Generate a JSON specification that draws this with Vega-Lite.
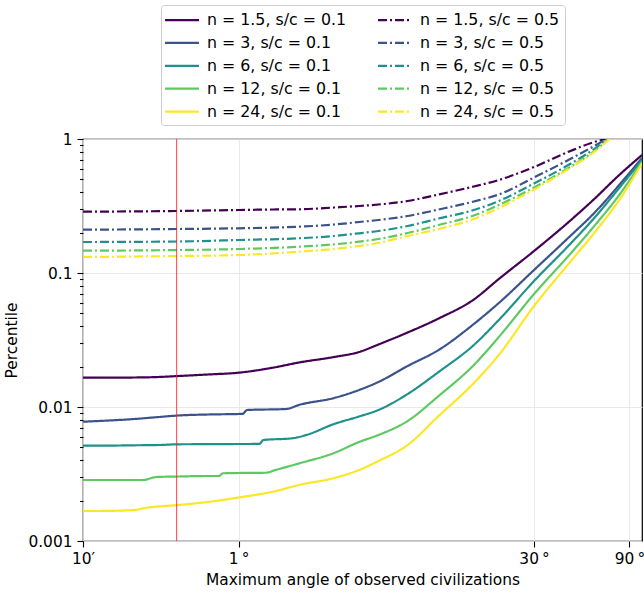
{
  "$schema": "https://vega.github.io/schema/vega-lite/v6.json",
  "width": 559,
  "height": 402,
  "autosize": {"type": "none"},
  "padding": {"left": 83, "top": 139, "right": 2, "bottom": 56},
  "background": "white",
  "config": {
    "font": "DejaVu Sans",
    "view": {"stroke": "black", "strokeWidth": 1.2},
    "axis": {
      "labelFont": "DejaVu Sans", "titleFont": "DejaVu Sans",
      "labelFontSize": 15.4, "titleFontSize": 15.4, "titleFontWeight": "normal",
      "labelColor": "black", "titleColor": "black",
      "tickColor": "black", "tickWidth": 1.1, "domain": false,
      "gridColor": "#e6e6e6", "gridWidth": 0.9
    }
  },
  "datasets": {
    "red": [{"x": 0.49}],
    "curves": [
      {"s": "n = 1.5, s/c = 0.1", "x": 0.1667, "y": 0.01655},
      {"s": "n = 1.5, s/c = 0.1", "x": 0.2, "y": 0.01655},
      {"s": "n = 1.5, s/c = 0.1", "x": 0.3, "y": 0.0166},
      {"s": "n = 1.5, s/c = 0.1", "x": 0.4, "y": 0.01675},
      {"s": "n = 1.5, s/c = 0.1", "x": 0.5, "y": 0.01703},
      {"s": "n = 1.5, s/c = 0.1", "x": 0.7, "y": 0.01748},
      {"s": "n = 1.5, s/c = 0.1", "x": 1, "y": 0.01803},
      {"s": "n = 1.5, s/c = 0.1", "x": 1.5, "y": 0.01971},
      {"s": "n = 1.5, s/c = 0.1", "x": 2, "y": 0.02148},
      {"s": "n = 1.5, s/c = 0.1", "x": 3, "y": 0.0236},
      {"s": "n = 1.5, s/c = 0.1", "x": 4, "y": 0.02572},
      {"s": "n = 1.5, s/c = 0.1", "x": 5, "y": 0.02926},
      {"s": "n = 1.5, s/c = 0.1", "x": 7, "y": 0.03597},
      {"s": "n = 1.5, s/c = 0.1", "x": 10, "y": 0.04575},
      {"s": "n = 1.5, s/c = 0.1", "x": 15, "y": 0.06342},
      {"s": "n = 1.5, s/c = 0.1", "x": 20, "y": 0.0902},
      {"s": "n = 1.5, s/c = 0.1", "x": 30, "y": 0.1459},
      {"s": "n = 1.5, s/c = 0.1", "x": 45, "y": 0.2423},
      {"s": "n = 1.5, s/c = 0.1", "x": 60, "y": 0.3566},
      {"s": "n = 1.5, s/c = 0.1", "x": 80, "y": 0.5387},
      {"s": "n = 1.5, s/c = 0.1", "x": 104, "y": 0.7597},

      {"s": "n = 3, s/c = 0.1", "x": 0.1667, "y": 0.007768},
      {"s": "n = 3, s/c = 0.1", "x": 0.2, "y": 0.007862},
      {"s": "n = 3, s/c = 0.1", "x": 0.3, "y": 0.008135},
      {"s": "n = 3, s/c = 0.1", "x": 0.4, "y": 0.008421},
      {"s": "n = 3, s/c = 0.1", "x": 0.5, "y": 0.008643},
      {"s": "n = 3, s/c = 0.1", "x": 0.7, "y": 0.00879},
      {"s": "n = 3, s/c = 0.1", "x": 1, "y": 0.00887},
      {"s": "n = 3, s/c = 0.1", "x": 1.05, "y": 0.00889},
      {"s": "n = 3, s/c = 0.1", "x": 1.1, "y": 0.009497},
      {"s": "n = 3, s/c = 0.1", "x": 1.73, "y": 0.009663},
      {"s": "n = 3, s/c = 0.1", "x": 2, "y": 0.01035},
      {"s": "n = 3, s/c = 0.1", "x": 3, "y": 0.01167},
      {"s": "n = 3, s/c = 0.1", "x": 4, "y": 0.01339},
      {"s": "n = 3, s/c = 0.1", "x": 5, "y": 0.01537},
      {"s": "n = 3, s/c = 0.1", "x": 7, "y": 0.02023},
      {"s": "n = 3, s/c = 0.1", "x": 10, "y": 0.02663},
      {"s": "n = 3, s/c = 0.1", "x": 15, "y": 0.04163},
      {"s": "n = 3, s/c = 0.1", "x": 20, "y": 0.05972},
      {"s": "n = 3, s/c = 0.1", "x": 30, "y": 0.1053},
      {"s": "n = 3, s/c = 0.1", "x": 45, "y": 0.1857},
      {"s": "n = 3, s/c = 0.1", "x": 60, "y": 0.2804},
      {"s": "n = 3, s/c = 0.1", "x": 80, "y": 0.4536},
      {"s": "n = 3, s/c = 0.1", "x": 104, "y": 0.7215},

      {"s": "n = 6, s/c = 0.1", "x": 0.1667, "y": 0.005143},
      {"s": "n = 6, s/c = 0.1", "x": 0.2, "y": 0.005143},
      {"s": "n = 6, s/c = 0.1", "x": 0.3, "y": 0.005179},
      {"s": "n = 6, s/c = 0.1", "x": 0.4, "y": 0.005205},
      {"s": "n = 6, s/c = 0.1", "x": 0.5, "y": 0.005268},
      {"s": "n = 6, s/c = 0.1", "x": 0.7, "y": 0.00528},
      {"s": "n = 6, s/c = 0.1", "x": 1, "y": 0.005295},
      {"s": "n = 6, s/c = 0.1", "x": 1.27, "y": 0.0053},
      {"s": "n = 6, s/c = 0.1", "x": 1.33, "y": 0.005672},
      {"s": "n = 6, s/c = 0.1", "x": 1.85, "y": 0.00584},
      {"s": "n = 6, s/c = 0.1", "x": 2.18, "y": 0.00618},
      {"s": "n = 6, s/c = 0.1", "x": 3, "y": 0.007466},
      {"s": "n = 6, s/c = 0.1", "x": 4, "y": 0.008494},
      {"s": "n = 6, s/c = 0.1", "x": 5, "y": 0.009497},
      {"s": "n = 6, s/c = 0.1", "x": 7, "y": 0.0125},
      {"s": "n = 6, s/c = 0.1", "x": 10, "y": 0.01825},
      {"s": "n = 6, s/c = 0.1", "x": 15, "y": 0.02902},
      {"s": "n = 6, s/c = 0.1", "x": 20, "y": 0.04461},
      {"s": "n = 6, s/c = 0.1", "x": 30, "y": 0.08716},
      {"s": "n = 6, s/c = 0.1", "x": 45, "y": 0.1618},
      {"s": "n = 6, s/c = 0.1", "x": 60, "y": 0.2572},
      {"s": "n = 6, s/c = 0.1", "x": 80, "y": 0.4309},
      {"s": "n = 6, s/c = 0.1", "x": 104, "y": 0.6972},

      {"s": "n = 12, s/c = 0.1", "x": 0.1667, "y": 0.002852},
      {"s": "n = 12, s/c = 0.1", "x": 0.2, "y": 0.002852},
      {"s": "n = 12, s/c = 0.1", "x": 0.3, "y": 0.002852},
      {"s": "n = 12, s/c = 0.1", "x": 0.331, "y": 0.002852},
      {"s": "n = 12, s/c = 0.1", "x": 0.389, "y": 0.003003},
      {"s": "n = 12, s/c = 0.1", "x": 0.5, "y": 0.003029},
      {"s": "n = 12, s/c = 0.1", "x": 0.7, "y": 0.003055},
      {"s": "n = 12, s/c = 0.1", "x": 0.8, "y": 0.003055},
      {"s": "n = 12, s/c = 0.1", "x": 0.832, "y": 0.0032},
      {"s": "n = 12, s/c = 0.1", "x": 1, "y": 0.003217},
      {"s": "n = 12, s/c = 0.1", "x": 1.375, "y": 0.003233},
      {"s": "n = 12, s/c = 0.1", "x": 1.5, "y": 0.003358},
      {"s": "n = 12, s/c = 0.1", "x": 2, "y": 0.003788},
      {"s": "n = 12, s/c = 0.1", "x": 3, "y": 0.004536},
      {"s": "n = 12, s/c = 0.1", "x": 4, "y": 0.005482},
      {"s": "n = 12, s/c = 0.1", "x": 5, "y": 0.00618},
      {"s": "n = 12, s/c = 0.1", "x": 7, "y": 0.007862},
      {"s": "n = 12, s/c = 0.1", "x": 10, "y": 0.01208},
      {"s": "n = 12, s/c = 0.1", "x": 15, "y": 0.02058},
      {"s": "n = 12, s/c = 0.1", "x": 20, "y": 0.03329},
      {"s": "n = 12, s/c = 0.1", "x": 30, "y": 0.06972},
      {"s": "n = 12, s/c = 0.1", "x": 45, "y": 0.1362},
      {"s": "n = 12, s/c = 0.1", "x": 60, "y": 0.2242},
      {"s": "n = 12, s/c = 0.1", "x": 80, "y": 0.382},
      {"s": "n = 12, s/c = 0.1", "x": 104, "y": 0.677},

      {"s": "n = 24, s/c = 0.1", "x": 0.1667, "y": 0.001675},
      {"s": "n = 24, s/c = 0.1", "x": 0.2, "y": 0.001675},
      {"s": "n = 24, s/c = 0.1", "x": 0.3, "y": 0.001703},
      {"s": "n = 24, s/c = 0.1", "x": 0.3455, "y": 0.001772},
      {"s": "n = 24, s/c = 0.1", "x": 0.4, "y": 0.001809},
      {"s": "n = 24, s/c = 0.1", "x": 0.5, "y": 0.001857},
      {"s": "n = 24, s/c = 0.1", "x": 0.7, "y": 0.001954},
      {"s": "n = 24, s/c = 0.1", "x": 1, "y": 0.002112},
      {"s": "n = 24, s/c = 0.1", "x": 1.5, "y": 0.00234},
      {"s": "n = 24, s/c = 0.1", "x": 2, "y": 0.002618},
      {"s": "n = 24, s/c = 0.1", "x": 3, "y": 0.002952},
      {"s": "n = 24, s/c = 0.1", "x": 4, "y": 0.003388},
      {"s": "n = 24, s/c = 0.1", "x": 5, "y": 0.003954},
      {"s": "n = 24, s/c = 0.1", "x": 7, "y": 0.005205},
      {"s": "n = 24, s/c = 0.1", "x": 10, "y": 0.008566},
      {"s": "n = 24, s/c = 0.1", "x": 15, "y": 0.0151},
      {"s": "n = 24, s/c = 0.1", "x": 20, "y": 0.02444},
      {"s": "n = 24, s/c = 0.1", "x": 30, "y": 0.05672},
      {"s": "n = 24, s/c = 0.1", "x": 45, "y": 0.1187},
      {"s": "n = 24, s/c = 0.1", "x": 60, "y": 0.1988},
      {"s": "n = 24, s/c = 0.1", "x": 80, "y": 0.3506},
      {"s": "n = 24, s/c = 0.1", "x": 104, "y": 0.6587},

      {"s": "n = 1.5, s/c = 0.5", "x": 0.1667, "y": 0.2868},
      {"s": "n = 1.5, s/c = 0.5", "x": 0.5, "y": 0.2903},
      {"s": "n = 1.5, s/c = 0.5", "x": 1, "y": 0.2952},
      {"s": "n = 1.5, s/c = 0.5", "x": 1.5, "y": 0.2978},
      {"s": "n = 1.5, s/c = 0.5", "x": 2, "y": 0.2988},
      {"s": "n = 1.5, s/c = 0.5", "x": 3, "y": 0.3082},
      {"s": "n = 1.5, s/c = 0.5", "x": 4, "y": 0.3162},
      {"s": "n = 1.5, s/c = 0.5", "x": 5, "y": 0.3245},
      {"s": "n = 1.5, s/c = 0.5", "x": 7, "y": 0.3445},
      {"s": "n = 1.5, s/c = 0.5", "x": 10, "y": 0.3853},
      {"s": "n = 1.5, s/c = 0.5", "x": 15, "y": 0.4421},
      {"s": "n = 1.5, s/c = 0.5", "x": 20, "y": 0.4943},
      {"s": "n = 1.5, s/c = 0.5", "x": 30, "y": 0.618},
      {"s": "n = 1.5, s/c = 0.5", "x": 45, "y": 0.8066},
      {"s": "n = 1.5, s/c = 0.5", "x": 60, "y": 0.9497},
      {"s": "n = 1.5, s/c = 0.5", "x": 68.4, "y": 1.0},

      {"s": "n = 3, s/c = 0.5", "x": 0.1667, "y": 0.2104},
      {"s": "n = 3, s/c = 0.5", "x": 0.5, "y": 0.213},
      {"s": "n = 3, s/c = 0.5", "x": 1, "y": 0.2156},
      {"s": "n = 3, s/c = 0.5", "x": 2, "y": 0.2215},
      {"s": "n = 3, s/c = 0.5", "x": 3, "y": 0.23},
      {"s": "n = 3, s/c = 0.5", "x": 4, "y": 0.2402},
      {"s": "n = 3, s/c = 0.5", "x": 5, "y": 0.2486},
      {"s": "n = 3, s/c = 0.5", "x": 7, "y": 0.2663},
      {"s": "n = 3, s/c = 0.5", "x": 10, "y": 0.2978},
      {"s": "n = 3, s/c = 0.5", "x": 15, "y": 0.3416},
      {"s": "n = 3, s/c = 0.5", "x": 20, "y": 0.3853},
      {"s": "n = 3, s/c = 0.5", "x": 30, "y": 0.5161},
      {"s": "n = 3, s/c = 0.5", "x": 45, "y": 0.7031},
      {"s": "n = 3, s/c = 0.5", "x": 60, "y": 0.8867},
      {"s": "n = 3, s/c = 0.5", "x": 69.2, "y": 1.0},

      {"s": "n = 6, s/c = 0.5", "x": 0.1667, "y": 0.1703},
      {"s": "n = 6, s/c = 0.5", "x": 0.5, "y": 0.1718},
      {"s": "n = 6, s/c = 0.5", "x": 1, "y": 0.1763},
      {"s": "n = 6, s/c = 0.5", "x": 2, "y": 0.1816},
      {"s": "n = 6, s/c = 0.5", "x": 3, "y": 0.1888},
      {"s": "n = 6, s/c = 0.5", "x": 4, "y": 0.1978},
      {"s": "n = 6, s/c = 0.5", "x": 5, "y": 0.2058},
      {"s": "n = 6, s/c = 0.5", "x": 7, "y": 0.2242},
      {"s": "n = 6, s/c = 0.5", "x": 10, "y": 0.255},
      {"s": "n = 6, s/c = 0.5", "x": 15, "y": 0.2952},
      {"s": "n = 6, s/c = 0.5", "x": 20, "y": 0.3445},
      {"s": "n = 6, s/c = 0.5", "x": 30, "y": 0.4655},
      {"s": "n = 6, s/c = 0.5", "x": 45, "y": 0.6452},
      {"s": "n = 6, s/c = 0.5", "x": 60, "y": 0.8421},
      {"s": "n = 6, s/c = 0.5", "x": 70, "y": 1.0},

      {"s": "n = 12, s/c = 0.5", "x": 0.1667, "y": 0.1467},
      {"s": "n = 12, s/c = 0.5", "x": 0.5, "y": 0.1484},
      {"s": "n = 12, s/c = 0.5", "x": 1, "y": 0.151},
      {"s": "n = 12, s/c = 0.5", "x": 2, "y": 0.1571},
      {"s": "n = 12, s/c = 0.5", "x": 3, "y": 0.1637},
      {"s": "n = 12, s/c = 0.5", "x": 4, "y": 0.1712},
      {"s": "n = 12, s/c = 0.5", "x": 5, "y": 0.1794},
      {"s": "n = 12, s/c = 0.5", "x": 7, "y": 0.1988},
      {"s": "n = 12, s/c = 0.5", "x": 10, "y": 0.2281},
      {"s": "n = 12, s/c = 0.5", "x": 15, "y": 0.2686},
      {"s": "n = 12, s/c = 0.5", "x": 20, "y": 0.3217},
      {"s": "n = 12, s/c = 0.5", "x": 30, "y": 0.4346},
      {"s": "n = 12, s/c = 0.5", "x": 45, "y": 0.6129},
      {"s": "n = 12, s/c = 0.5", "x": 60, "y": 0.8136},
      {"s": "n = 12, s/c = 0.5", "x": 70.8, "y": 1.0},

      {"s": "n = 24, s/c = 0.5", "x": 0.1667, "y": 0.1316},
      {"s": "n = 24, s/c = 0.5", "x": 0.5, "y": 0.1339},
      {"s": "n = 24, s/c = 0.5", "x": 1, "y": 0.1362},
      {"s": "n = 24, s/c = 0.5", "x": 2, "y": 0.1442},
      {"s": "n = 24, s/c = 0.5", "x": 3, "y": 0.151},
      {"s": "n = 24, s/c = 0.5", "x": 4, "y": 0.159},
      {"s": "n = 24, s/c = 0.5", "x": 5, "y": 0.1675},
      {"s": "n = 24, s/c = 0.5", "x": 7, "y": 0.1888},
      {"s": "n = 24, s/c = 0.5", "x": 10, "y": 0.213},
      {"s": "n = 24, s/c = 0.5", "x": 15, "y": 0.2529},
      {"s": "n = 24, s/c = 0.5", "x": 20, "y": 0.3055},
      {"s": "n = 24, s/c = 0.5", "x": 30, "y": 0.4199},
      {"s": "n = 24, s/c = 0.5", "x": 45, "y": 0.6025},
      {"s": "n = 24, s/c = 0.5", "x": 60, "y": 0.8},
      {"s": "n = 24, s/c = 0.5", "x": 71.6, "y": 1.0}
    ]
  },
  "layer": [
    {
      "data": {"name": "curves"},
      "mark": {"type": "line", "strokeWidth": 2.2, "clip": true, "interpolate": "monotone"},
      "encoding": {
        "x": {
          "field": "x", "type": "quantitative",
          "scale": {"type": "log", "domain": [0.166667, 104], "nice": false},
          "axis": {
            "title": "Maximum angle of observed civilizations",
            "values": [0.166667, 1, 30, 90],
            "labelExpr": "datum.value < 0.5 ? '10′' : datum.value + '\u2009°'",
            "tickSize": 6, "labelPadding": 4, "titlePadding": 6,
            "grid": true, "labelFlush": false
          }
        },
        "y": {
          "field": "y", "type": "quantitative",
          "scale": {"type": "log", "domain": [0.001, 1], "nice": false},
          "axis": {
            "title": "Percentile",
            "values": [0.001, 0.002, 0.003, 0.004, 0.005, 0.006, 0.007, 0.008, 0.009, 0.01, 0.02, 0.03, 0.04, 0.05, 0.06, 0.07, 0.08, 0.09, 0.1, 0.2, 0.3, 0.4, 0.5, 0.6, 0.7, 0.8, 0.9, 1],
            "format": "~g",
            "labelExpr": "indexof([0.001, 0.01, 0.1, 1], datum.value) >= 0 ? datum.label : ''",
            "tickSize": {"condition": {"test": "indexof([0.001, 0.01, 0.1, 1], datum.value) >= 0", "value": 6}, "value": 3.5},
            "gridOpacity": {"condition": {"test": "indexof([0.001, 0.01, 0.1, 1], datum.value) >= 0", "value": 1}, "value": 0},
            "labelPadding": 5, "titlePadding": 8, "grid": true, "labelFlush": false
          }
        },
        "color": {
          "field": "s", "type": "nominal",
          "scale": {
            "domain": ["n = 1.5, s/c = 0.1", "n = 3, s/c = 0.1", "n = 6, s/c = 0.1", "n = 12, s/c = 0.1", "n = 24, s/c = 0.1", "n = 1.5, s/c = 0.5", "n = 3, s/c = 0.5", "n = 6, s/c = 0.5", "n = 12, s/c = 0.5", "n = 24, s/c = 0.5"],
            "range": ["#440154", "#3b528b", "#21918c", "#5ec962", "#fde725", "#440154", "#3b528b", "#21918c", "#5ec962", "#fde725"]
          },
          "legend": {
            "title": null, "orient": "none", "legendX": 78, "legendY": -134,
            "columns": 2, "columnPadding": 26, "rowPadding": 4.9,
            "symbolType": "M-2,0H2", "symbolSize": 289, "symbolStrokeWidth": 2.2, "symbolOffset": 6,
            "labelFont": "DejaVu Sans", "labelFontSize": 15.8, "labelColor": "black",
            "labelOffset": 15, "labelLimit": 300,
            "padding": 5, "strokeColor": "#cccccc", "fillColor": "white", "cornerRadius": 3
          }
        },
        "strokeDash": {
          "field": "s", "type": "nominal",
          "scale": {
            "domain": ["n = 1.5, s/c = 0.1", "n = 3, s/c = 0.1", "n = 6, s/c = 0.1", "n = 12, s/c = 0.1", "n = 24, s/c = 0.1", "n = 1.5, s/c = 0.5", "n = 3, s/c = 0.5", "n = 6, s/c = 0.5", "n = 12, s/c = 0.5", "n = 24, s/c = 0.5"],
            "range": [[1, 0], [1, 0], [1, 0], [1, 0], [1, 0], [9, 3, 2, 3], [9, 3, 2, 3], [9, 3, 2, 3], [9, 3, 2, 3], [9, 3, 2, 3]]
          }
        }
      }
    },
    {
      "data": {"name": "red"},
      "mark": {"type": "rule", "color": "#ff2020", "strokeWidth": 1, "opacity": 0.85},
      "encoding": {"x": {"field": "x", "type": "quantitative"}}
    }
  ]
}
